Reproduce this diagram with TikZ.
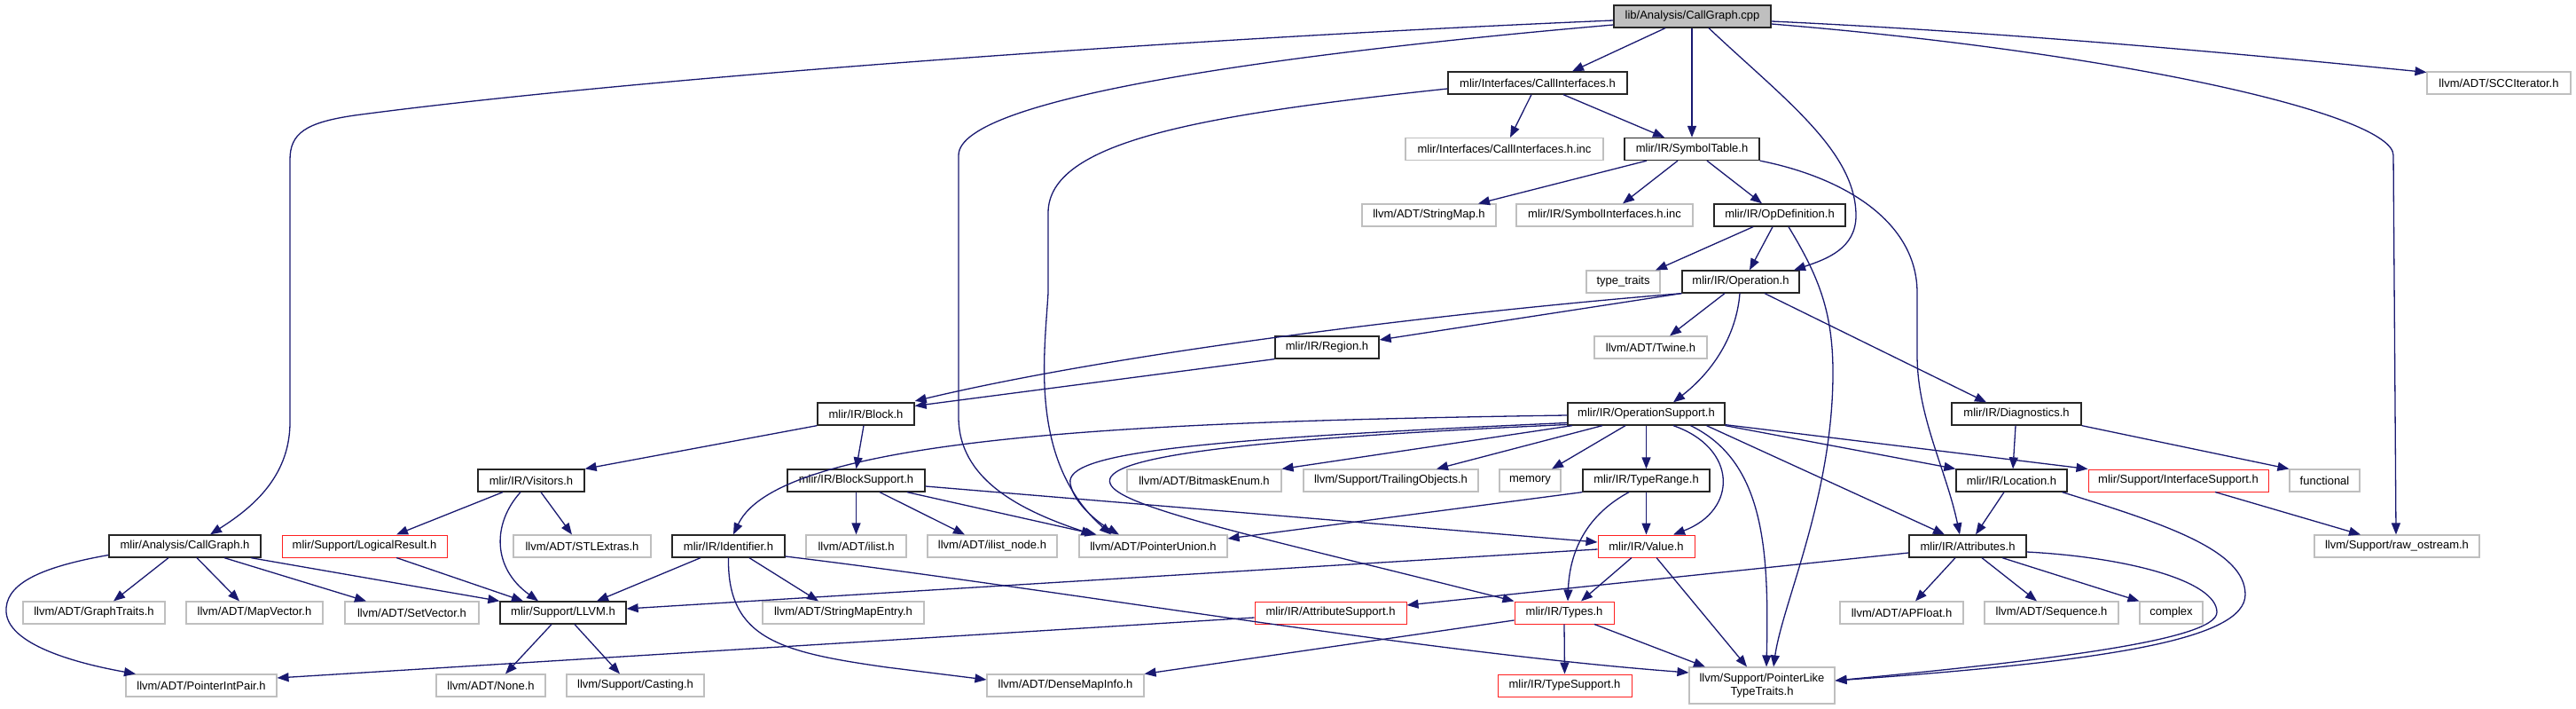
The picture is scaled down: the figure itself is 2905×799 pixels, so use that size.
\documentclass[tikz,border=0pt]{standalone}
\usepackage{fontspec}
\setmainfont{Liberation Sans}
\usetikzlibrary{arrows.meta}
\definecolor{edgecol}{HTML}{191970}
\definecolor{grayb}{HTML}{BFBFBF}
\definecolor{redb}{HTML}{FF2020}
\definecolor{rootfill}{HTML}{BFBFBF}
\begin{document}
\begin{tikzpicture}[x=1pt,y=-1pt,
  box/.style={draw, rectangle, inner sep=0pt, minimum height=25pt, font=\fontsize{13}{14.5}\selectfont, fill=white, line width=1.3pt, align=center},
  blk/.style={box, draw=black!85},
  gry/.style={box, draw=grayb, line width=1.1pt},
  rbox/.style={box, draw=redb, line width=1pt},
  root/.style={blk, fill=rootfill},
  edge/.style={draw=edgecol, line width=1.3pt, -{Triangle[length=13pt,width=10pt]}}
]
\useasboundingbox (0,0) rectangle (2905,799);
% row 0-1
\node[root, minimum width=177pt] (cpp) at (1908.5,18.5) {lib/Analysis/CallGraph.cpp};
\node[blk, minimum width=202pt] (ci) at (1734,93.5) {mlir/Interfaces/CallInterfaces.h};
\node[gry, minimum width=162pt] (scc) at (2818,93.5) {llvm/ADT/SCCIterator.h};
% row 2
\node[gry, minimum width=223pt] (ciinc) at (1696.5,168) {mlir/Interfaces/CallInterfaces.h.inc};
\node[blk, minimum width=152pt] (st) at (1908,168) {mlir/IR/SymbolTable.h};
% row 3
\node[gry, minimum width=151pt] (sm) at (1611.5,242.5) {llvm/ADT/StringMap.h};
\node[gry, minimum width=199pt] (siinc) at (1809.5,242.5) {mlir/IR/SymbolInterfaces.h.inc};
\node[blk, minimum width=148pt] (opdef) at (2007,242.5) {mlir/IR/OpDefinition.h};
% row 4
\node[gry, minimum width=83pt] (tt) at (1830.5,317.5) {type\_traits};
\node[blk, minimum width=132pt] (op) at (1963,317.5) {mlir/IR/Operation.h};
% row 5
\node[blk, minimum width=117pt] (region) at (1496.5,391.5) {mlir/IR/Region.h};
\node[gry, minimum width=127pt] (twine) at (1861.5,391.5) {llvm/ADT/Twine.h};
% row 6
\node[blk, minimum width=109pt] (block) at (976.5,466.5) {mlir/IR/Block.h};
\node[blk, minimum width=177pt] (opsup) at (1856.5,466.5) {mlir/IR/OperationSupport.h};
\node[blk, minimum width=146pt] (diag) at (2274,466.5) {mlir/IR/Diagnostics.h};
% row 7
\node[blk, minimum width=120pt] (visitors) at (599,541.5) {mlir/IR/Visitors.h};
\node[blk, minimum width=155pt] (bsup) at (965.5,541.5) {mlir/IR/BlockSupport.h};
\node[gry, minimum width=174pt] (bme) at (1358,541.5) {llvm/ADT/BitmaskEnum.h};
\node[gry, minimum width=197pt] (trail) at (1568.5,541.5) {llvm/Support/TrailingObjects.h};
\node[gry, minimum width=69pt] (memory) at (1725.5,541.5) {memory};
\node[blk, minimum width=143pt] (trange) at (1856.5,541.5) {mlir/IR/TypeRange.h};
\node[blk, minimum width=125pt] (loc) at (2268.5,541.5) {mlir/IR/Location.h};
\node[rbox, minimum width=203pt] (isup) at (2456.5,541.5) {mlir/Support/InterfaceSupport.h};
\node[gry, minimum width=79pt] (func) at (2621.5,541.5) {functional};
% row 8
\node[blk, minimum width=171pt] (cgh) at (208.5,615.5) {mlir/Analysis/CallGraph.h};
\node[rbox, minimum width=186pt] (lr) at (411,615.5) {mlir/Support/LogicalResult.h};
\node[gry, minimum width=155pt] (stl) at (656.5,615.5) {llvm/ADT/STLExtras.h};
\node[blk, minimum width=127pt] (ident) at (821.5,615.5) {mlir/IR/Identifier.h};
\node[gry, minimum width=113pt] (ilist) at (965.5,615.5) {llvm/ADT/ilist.h};
\node[gry, minimum width=146pt] (ilnode) at (1119,615.5) {llvm/ADT/ilist\_node.h};
\node[gry, minimum width=167pt] (pu) at (1300.5,615.5) {llvm/ADT/PointerUnion.h};
\node[rbox, minimum width=109pt] (value) at (1856.5,615.5) {mlir/IR/Value.h};
\node[blk, minimum width=132pt] (attr) at (2219,615.5) {mlir/IR/Attributes.h};
\node[gry, minimum width=186pt] (raw) at (2703,615.5) {llvm/Support/raw\_ostream.h};
% row 9
\node[gry, minimum width=160pt] (gt) at (106,690.5) {llvm/ADT/GraphTraits.h};
\node[gry, minimum width=154pt] (mv) at (287,690.5) {llvm/ADT/MapVector.h};
\node[gry, minimum width=151pt] (sv) at (464.5,690.5) {llvm/ADT/SetVector.h};
\node[blk, minimum width=142pt] (llvm) at (635,690.5) {mlir/Support/LLVM.h};
\node[gry, minimum width=182pt] (sme) at (951,690.5) {llvm/ADT/StringMapEntry.h};
\node[rbox, minimum width=171pt] (asup) at (1500.5,690.5) {mlir/IR/AttributeSupport.h};
\node[rbox, minimum width=112pt] (types) at (1764,690.5) {mlir/IR/Types.h};
\node[gry, minimum width=139pt] (apf) at (2144.5,690.5) {llvm/ADT/APFloat.h};
\node[gry, minimum width=151pt] (seq) at (2313.5,690.5) {llvm/ADT/Sequence.h};
\node[gry, minimum width=71pt] (cplx) at (2448.5,690.5) {complex};
% row 10
\node[gry, minimum width=170pt] (pip) at (227,772.5) {llvm/ADT/PointerIntPair.h};
\node[gry, minimum width=123pt] (none) at (553.5,772.5) {llvm/ADT/None.h};
\node[gry, minimum width=155pt] (cast) at (716.5,772.5) {llvm/Support/Casting.h};
\node[gry, minimum width=177pt] (dmi) at (1201.5,772.5) {llvm/ADT/DenseMapInfo.h};
\node[rbox, minimum width=151pt] (tsup) at (1764.5,772.5) {mlir/IR/TypeSupport.h};
\node[gry, minimum width=164pt, minimum height=41pt] (plt) at (1987,772.5) {llvm/Support/PointerLike\\TypeTraits.h};

% edges from cpp
\draw[edge] ([yshift=-4.5]cpp.west) .. controls (1300,45) and (700,90) .. (400,130) .. controls (345,138) and (327,150) .. (327,180) -- (327,476) .. controls (327,540) and (280,575) .. ([xshift=28.5]cgh.north);
\draw[edge] ([xshift=-30.5]cpp.south) -- ([xshift=39]ci.north);
\draw[edge] ([xshift=-0.5]cpp.south) -- (st.north);
\draw[edge] ([xshift=18.5]cpp.south) .. controls (2010,110) and (2093,170) .. (2093,243) .. controls (2093,280) and (2060,292) .. ([xshift=60]op.north);
\draw[edge] ([yshift=-5.5]cpp.east) .. controls (2300,38) and (2600,68) .. ([yshift=12]scc.west);
\draw[edge] ([yshift=-8.5]cpp.east) .. controls (2400,60) and (2699,130) .. (2699,175) -- ([xshift=-1]raw.north);
\draw[edge] ([yshift=-9.5]cpp.west) .. controls (1450,60) and (1081,110) .. (1081,175) -- (1081,470) .. controls (1081,540) and (1150,575) .. ([xshift=-68]pu.north);
% ci
\draw[edge] ([xshift=-7]ci.south) -- ([xshift=6.5]ciinc.north);
\draw[edge] ([xshift=29]ci.south) -- ([xshift=-31]st.north);
\draw[edge] ([yshift=-6.5]ci.west) .. controls (1350,130) and (1182,160) .. (1182,240) -- (1182,330) .. controls (1178,400) and (1160,520) .. ([xshift=-47.5]pu.north);
% st
\draw[edge] ([xshift=-51]st.south) -- ([xshift=55.5]sm.north);
\draw[edge] ([xshift=-16]st.south) -- ([xshift=20.5]siinc.north);
\draw[edge] ([xshift=17]st.south) -- ([xshift=-20]opdef.north);
\draw[edge] (st.south east) .. controls (2080,200) and (2162,250) .. (2162,330) -- (2162,400) .. controls (2162,470) and (2195,530) .. ([xshift=-9]attr.north);
% opdef
\draw[edge] ([xshift=-30]opdef.south) -- ([xshift=36.5]tt.north);
\draw[edge] ([xshift=-8]opdef.south) -- ([xshift=10]op.north);
\draw[edge] ([xshift=10]opdef.south) .. controls (2050,310) and (2067,350) .. (2067,420) .. controls (2067,560) and (2010,680) .. ([xshift=13]plt.north);
% op
\draw[edge] (op.south west) -- ([yshift=8.5]region.east);
\draw[edge] (op.south west) .. controls (1600,355) and (1250,400) .. ([yshift=14.5]block.east);
\draw[edge] ([xshift=-18]op.south) -- ([xshift=21.5]twine.north);
\draw[edge] ([xshift=-1]op.south) .. controls (1958,380) and (1930,420) .. ([xshift=30.5]opsup.north);
\draw[edge] ([xshift=27]op.south) -- ([xshift=-34]diag.north);
% region
\draw[edge] (region.south west) -- ([yshift=9]block.east);
% block
\draw[edge] (block.south west) -- (visitors.north east);
\draw[edge] ([xshift=-2.5]block.south) -- (bsup.north);
% visitors
\draw[edge] ([xshift=-32]visitors.south) -- ([xshift=36]lr.north);
\draw[edge] ([xshift=11]visitors.south) -- ([xshift=-11.5]stl.north);
\draw[edge] ([xshift=-12]visitors.south) .. controls (555,590) and (555,640) .. ([xshift=-28]llvm.north);
% lr
\draw[edge] ([xshift=36]lr.south) -- ([xshift=-45]llvm.north);
% cgh
\draw[edge] ([xshift=-18.5]cgh.south) -- ([xshift=22]gt.north);
\draw[edge] ([xshift=13.5]cgh.south) -- ([xshift=-17]mv.north);
\draw[edge] ([xshift=44.5]cgh.south) -- ([xshift=-51.5]sv.north);
\draw[edge] ([xshift=74.5]cgh.south) -- (llvm.north west);
\draw[edge] ([yshift=-10]cgh.west) .. controls (40,640) and (5,660) .. (7,690) .. controls (10,730) and (100,750) .. ([xshift=-74]pip.north);
% ident
\draw[edge] ([xshift=-31.5]ident.south) -- ([xshift=38]llvm.north);
\draw[edge] ([xshift=23.5]ident.south) -- ([xshift=-28]sme.north);
\draw[edge] (ident.south) .. controls (820,720) and (880,735) .. (1000,752) -- ([yshift=6.5]dmi.west);
\draw[edge] ([yshift=-11.5]ident.east) .. controls (1200,665) and (1600,735) .. ([yshift=14.5]plt.west);
% bsup
\draw[edge] (bsup.south) -- (ilist.north);
\draw[edge] ([xshift=26.5]bsup.south) -- ([xshift=-31]ilnode.north);
\draw[edge] ([xshift=57.5]bsup.south) -- ([xshift=-64]pu.north);
\draw[edge] ([yshift=-6.5]bsup.east) -- ([yshift=4.5]value.west);
% opsup
\draw[edge] ([yshift=-1.5]opsup.west) .. controls (1300,475) and (880,490) .. ([xshift=5.5]ident.north);
\draw[edge] ([xshift=-83.5]opsup.south) -- (bme.north east);
\draw[edge] ([xshift=-49.5]opsup.south) -- ([xshift=51.5]trail.north);
\draw[edge] ([xshift=-23.5]opsup.south) -- ([xshift=24.5]memory.north);
\draw[edge] (opsup.south) -- (trange.north);
\draw[edge] ([xshift=30.5]opsup.south) .. controls (1960,505) and (1960,575) .. ([xshift=30.5]value.north);
\draw[edge] ([xshift=50]opsup.south) .. controls (1990,520) and (1995,620) .. ([xshift=5]plt.north);
\draw[edge] ([xshift=68]opsup.south) -- ([xshift=-26]attr.north);
\draw[edge] (opsup.south east) -- (loc.north west);
\draw[edge] ([yshift=1]opsup.south east) -- (isup.north west);
\draw[edge] ([yshift=-10]opsup.west) .. controls (1350,495) and (1200,510) .. (1207,545) .. controls (1211,568) and (1240,590) .. ([xshift=-38.5]pu.north);
\draw[edge] ([yshift=-12]opsup.west) .. controls (1400,495) and (1240,515) .. (1252,545) .. controls (1262,572) and (1420,605) .. (types.north west);
% trange
\draw[edge] (trange.south west) -- ([yshift=8.5]pu.east);
\draw[edge] (trange.south) -- (value.north);
\draw[edge] ([xshift=-19.5]trange.south) .. controls (1790,580) and (1770,620) .. ([xshift=4]types.north);
% value
\draw[edge] ([xshift=-16.5]value.south) -- ([xshift=19]types.north);
\draw[edge] ([yshift=-3.5]value.west) -- ([yshift=4.5]llvm.east);
\draw[edge] ([xshift=11.5]value.south) -- ([xshift=-17]plt.north);
% types
\draw[edge] (types.south) -- (tsup.north);
\draw[edge] ([yshift=-8.5]types.west) -- (dmi.north east);
\draw[edge] ([xshift=34]types.south) -- ([xshift=-64]plt.north);
% attr
\draw[edge] ([yshift=-7.5]attr.west) -- ([yshift=8.5]asup.east);
\draw[edge] ([xshift=-14]attr.south) -- ([xshift=15.5]apf.north);
\draw[edge] ([xshift=16]attr.south) -- ([xshift=-16.5]seq.north);
\draw[edge] ([xshift=39]attr.south) -- (cplx.north west);
\draw[edge] ([yshift=-6.5]attr.east) .. controls (2400,628) and (2500,655) .. (2500,690) .. controls (2500,722) and (2300,745) .. ([yshift=5.5]plt.east);
% loc
\draw[edge] ([xshift=-8.5]loc.south) -- ([xshift=9]attr.north);
\draw[edge] ([xshift=-6]loc.south east) .. controls (2440,590) and (2532,620) .. (2532,670) .. controls (2532,720) and (2380,745) .. ([yshift=5.5]plt.east);
% diag
\draw[edge] ([xshift=-1]diag.south) -- ([xshift=1.5]loc.north);
\draw[edge] (diag.south east) -- (func.north west);
% isup
\draw[edge] ([xshift=41.5]isup.south) -- ([xshift=-41]raw.north);
% llvm
\draw[edge] ([xshift=-13]llvm.south) -- ([xshift=16.5]none.north);
\draw[edge] ([xshift=13]llvm.south) -- ([xshift=-17.5]cast.north);
% asup
\draw[edge] ([yshift=-5.5]asup.west) -- ([yshift=8.5]pip.east);
\end{tikzpicture}
\end{document}
